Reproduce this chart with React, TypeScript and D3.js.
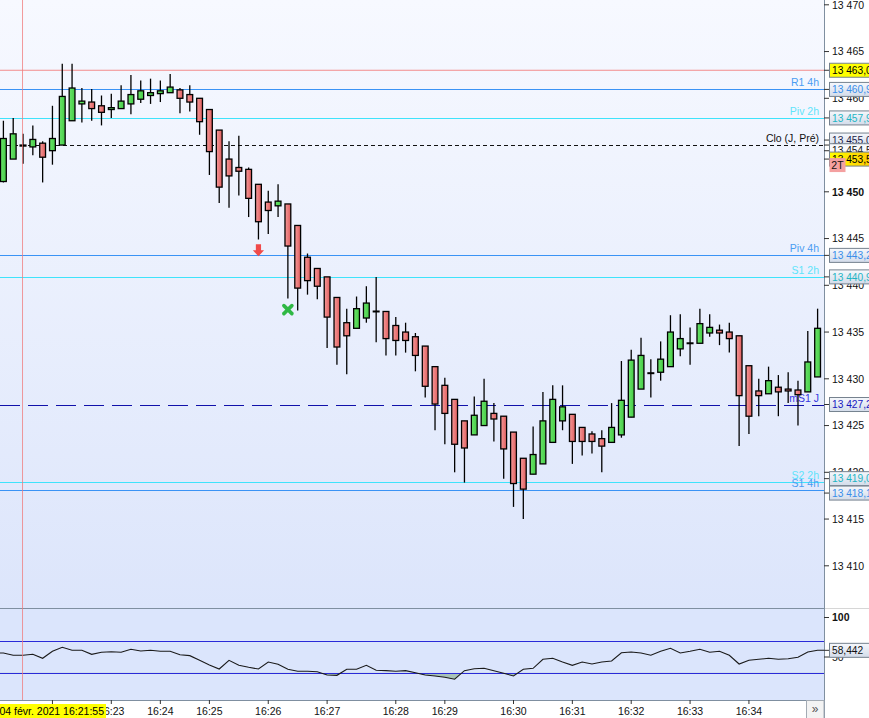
import * as d3 from "d3";

// OHLC per bar (tick bars, 84 of them)
const opens = [
  13451.1, 13453.5, 13455.0, 13454.8, 13455.2, 13454.4, 13455.0, 13457.6, 13459.4, 13459.6,
  13459.2, 13458.8, 13458.9, 13459.4, 13459.9, 13460.3, 13460.5, 13460.6, 13460.9, 13460.4,
  13460.0, 13458.8, 13456.6, 13453.5, 13452.6, 13452.4, 13450.8, 13448.9, 13448.5, 13448.7,
  13446.4, 13443.0, 13441.8, 13440.9, 13438.7, 13436.0, 13435.4, 13436.5, 13437.2, 13437.2,
  13435.7, 13435.0, 13434.5, 13433.5, 13431.3, 13429.3, 13427.8, 13425.5, 13424.0, 13425.0,
  13426.3, 13426.0, 13424.3, 13421.5, 13419.8, 13420.9, 13423.2, 13425.5, 13426.2, 13424.8,
  13424.1, 13423.6, 13423.2, 13424.0, 13425.9, 13428.9, 13430.6, 13430.7, 13431.3, 13433.2,
  13433.8, 13433.8, 13434.9, 13435.2, 13435.0, 13434.6, 13431.4, 13428.7, 13428.4, 13429.1,
  13428.9, 13428.8, 13428.6, 13430.2,
];
const highs = [
  13457.6, 13457.9, 13456.2, 13457.1, 13455.4, 13459.2, 13463.7, 13463.7, 13461.1, 13461.0,
  13460.3, 13460.5, 13461.4, 13462.5, 13461.9, 13462.1, 13461.9, 13462.6, 13461.1, 13461.4,
  13460.0, 13458.8, 13456.6, 13455.4, 13456.0, 13452.6, 13450.8, 13450.1, 13450.8, 13448.7,
  13446.4, 13443.4, 13441.8, 13440.9, 13438.7, 13437.5, 13438.8, 13439.9, 13440.9, 13437.2,
  13436.6, 13436.0, 13434.9, 13433.5, 13431.3, 13430.1, 13427.8, 13425.5, 13428.1, 13430.0,
  13427.4, 13426.0, 13424.3, 13421.5, 13424.9, 13428.6, 13429.3, 13429.3, 13426.2, 13424.8,
  13424.4, 13424.5, 13427.4, 13431.9, 13433.1, 13434.4, 13432.1, 13434.0, 13436.8, 13436.9,
  13435.5, 13437.5, 13436.9, 13435.8, 13436.0, 13434.6, 13431.4, 13430.0, 13431.3, 13430.4,
  13430.7, 13429.8, 13435.1, 13437.5,
];
const lows = [
  13451.0, 13453.5, 13453.0, 13453.9, 13451.0, 13452.9, 13455.0, 13457.6, 13457.4, 13457.6,
  13457.1, 13457.9, 13458.9, 13458.3, 13459.5, 13459.4, 13459.6, 13460.6, 13458.4, 13458.6,
  13456.1, 13451.8, 13448.8, 13448.3, 13449.6, 13447.3, 13444.9, 13445.5, 13447.3, 13438.6,
  13437.3, 13439.0, 13438.5, 13433.3, 13431.5, 13430.5, 13435.4, 13436.0, 13433.9, 13432.5,
  13432.5, 13432.8, 13430.8, 13428.0, 13424.5, 13423.0, 13420.0, 13418.9, 13424.0, 13425.0,
  13423.3, 13419.3, 13416.3, 13415.0, 13419.8, 13420.9, 13423.2, 13424.5, 13420.9, 13421.8,
  13422.0, 13420.0, 13423.2, 13423.7, 13425.9, 13428.9, 13428.0, 13429.8, 13431.3, 13432.4,
  13431.5, 13433.8, 13434.5, 13433.6, 13432.8, 13422.8, 13424.1, 13426.0, 13428.4, 13426.0,
  13427.4, 13425.0, 13428.6, 13430.2,
];
const closes = [
  13455.7, 13456.2, 13454.9, 13455.6, 13453.7, 13455.7, 13460.2, 13461.1, 13459.7, 13458.9,
  13458.5, 13459.0, 13459.7, 13460.4, 13460.8, 13460.6, 13460.8, 13461.2, 13460.0, 13459.6,
  13457.5, 13454.3, 13450.5, 13451.7, 13452.2, 13449.3, 13446.8, 13448.0, 13449.0, 13444.2,
  13439.7, 13440.5, 13439.9, 13436.6, 13433.4, 13434.6, 13437.5, 13438.1, 13437.2, 13434.3,
  13434.1, 13434.1, 13432.5, 13429.2, 13427.3, 13426.3, 13423.0, 13422.6, 13426.1, 13427.6,
  13425.7, 13422.5, 13418.8, 13418.2, 13421.9, 13425.5, 13427.8, 13427.0, 13423.3, 13423.3,
  13423.3, 13422.8, 13424.8, 13427.7, 13432.0, 13432.5, 13430.6, 13432.1, 13435.0, 13434.3,
  13433.8, 13435.9, 13435.5, 13434.9, 13434.3, 13428.2, 13426.0, 13428.2, 13429.8, 13428.6,
  13428.7, 13428.3, 13431.8, 13435.4,
];

// oscillator per bar
const rsi = [
  55.1, 52.2, 52.2, 53.4, 48.4, 57.2, 62.3, 58.5, 58.5, 53.4,
  56.0, 56.7, 56.0, 59.8, 57.6, 58.5, 57.2, 57.2, 52.9, 51.7,
  45.8, 39.9, 34.8, 45.8, 39.5, 37.0, 34.8, 43.7, 40.8, 34.4,
  31.9, 31.9, 31.4, 27.2, 26.8, 34.4, 34.4, 39.5, 33.2, 32.7,
  31.9, 32.7, 30.1, 27.2, 26.0, 24.3, 21.8, 32.7, 35.2, 35.7,
  32.7, 29.4, 26.0, 34.4, 35.7, 47.1, 48.4, 43.7, 39.5, 43.7,
  41.1, 43.7, 44.9, 55.4, 56.3, 55.1, 52.2, 57.2, 61.0, 55.1,
  57.2, 59.8, 56.0, 57.2, 52.2, 41.1, 45.8, 47.1, 48.4, 47.1,
  47.8, 49.6, 56.3, 58.6,
];
const rsiLast = 58.442;
const rsiBands = [70, 30];
const rsiTicks = [100, 50];

const timeLabels = ["16:22", "16:23", "16:24", "16:25", "16:26", "16:27", "16:28", "16:29", "16:30", "16:31", "16:32", "16:33", "16:34"];
const timeBars = [5, 11, 16, 21, 27, 33, 40, 45, 52, 58, 64, 70, 76];

const priceTicks = [13410, 13415, 13420, 13425, 13430, 13435, 13440, 13445, 13450, 13455, 13460, 13465, 13470];

const levelNames = ["R1 4h", "Piv 2h", "Clo (J, Pré)", "Piv 4h", "S1 2h", "mS1 J", "S2 2h", "S1 4h"];
const levelValues = [13460.95, 13457.9, 13455.0, 13443.2, 13440.9, 13427.25, 13419.0, 13418.1];
const dayHigh = 13463.0;
const quoteValues = [13454.5, 13453.5];

const sellSignal = { bar: 26, price: 13443.1 };
const exitSignal = { bar: 29, price: 13437.4 };
const cursorBar = 2;
const cursorLabel = "04 févr. 2021 16:21:55";

const BLUE = "#3a93f5";
const CYAN = "#3fe3fb";
const levelStyle: Record<string, { line: string; text: string; box: string; dash?: string; boxDy?: number }> = {
  "R1 4h": { line: BLUE, text: "#4a9cf2", box: "#3a8eea" },
  "Piv 2h": { line: CYAN, text: "#5fe4fb", box: "#1fb5c4" },
  "Clo (J, Pré)": { line: "#111", text: "#111", box: "#1d1d48", dash: "4,3", boxDy: -5 },
  "Piv 4h": { line: BLUE, text: "#4a9cf2", box: "#3a8eea" },
  "S1 2h": { line: CYAN, text: "#5fe4fb", box: "#1fb5c4" },
  "mS1 J": { line: "#1111aa", text: "#3535e0", box: "#1818c0", dash: "20,8" },
  "S2 2h": { line: CYAN, text: "#5fe4fb", box: "#1fb5c4", boxDy: -3 },
  "S1 4h": { line: BLUE, text: "#4a9cf2", box: "#3a8eea", boxDy: 3 },
};

const W = 869;
const H = 718;
const PR = 824; // plot right edge / price axis
const MB = 608; // bottom of price panel
const RB = 700; // bottom of oscillator panel
const FONT = "'Liberation Sans', Arial, sans-serif";

const loc = d3.formatLocale({ decimal: ",", thousands: "\u00a0", grouping: [3], currency: ["", ""] });
const fmtTick = loc.format(",d");
const fmtBox = loc.format(",.2f");
const fmtRsi = loc.format(".3f");

function PriceBox({ y, text, color, fill }: { y: number; text: string; color: string; fill: string }) {
  return (
    <g>
      <line x1={PR} x2={829} y1={y} y2={y} stroke="#333" strokeWidth={1} />
      <rect x={829.5} y={y - 7} width={50} height={14} fill={fill} stroke="#75828f" strokeWidth={1} />
      <text x={832} y={y} dy="0.36em" fontSize={10.2} fill={color} fontFamily={FONT}>{text}</text>
    </g>
  );
}

export default function App() {
  const x = d3.scaleLinear().domain([0, opens.length - 1]).range([3.4, 817.6]);
  const y = d3.scaleLinear().domain([13410, 13470]).range([565.8, 4.8]);
  const yr = d3.scaleLinear().domain([0, 100]).range([696.5, 617.5]);

  const pts: [number, number][] = [
    [0, yr(rsi[0])],
    ...rsi.map((v, i) => [x(i), yr(v)] as [number, number]),
    [PR, yr(rsi[rsi.length - 1])],
  ];
  const rsiLine = d3.line<[number, number]>().x(d => d[0]).y(d => d[1])(pts) || "";
  const rsiArea = d3.area<[number, number]>().x(d => d[0]).y0(yr(30)).y1(d => d[1])(pts) || "";

  const bw = 5.8;

  return (
    <div style={{ position: "absolute", left: 0, top: 0 }}>
      <svg width={W} height={H} style={{ display: "block", fontFamily: FONT }}>
        <defs>
          <linearGradient id="bgMain" x1="0" y1="0" x2="0" y2="1">
            <stop offset="0" stopColor="#f7f9ff" />
            <stop offset="1" stopColor="#dce5fb" />
          </linearGradient>
          <linearGradient id="up" x1="0" y1="0" x2="1" y2="0">
            <stop offset="0" stopColor="#6ae46a" />
            <stop offset="1" stopColor="#46cc46" />
          </linearGradient>
          <linearGradient id="down" x1="0" y1="0" x2="1" y2="0">
            <stop offset="0" stopColor="#f59a9a" />
            <stop offset="1" stopColor="#e05e5e" />
          </linearGradient>
          <linearGradient id="boxFill" x1="0" y1="0" x2="0" y2="1">
            <stop offset="0" stopColor="#f6f8fc" />
            <stop offset="1" stopColor="#d3dcea" />
          </linearGradient>
          <linearGradient id="lastFill" x1="0" y1="0" x2="1" y2="0">
            <stop offset="0" stopColor="#ffff00" />
            <stop offset="1" stopColor="#ffbf00" />
          </linearGradient>
          <clipPath id="below30">
            <rect x={0} y={yr(30)} width={PR} height={RB - yr(30)} />
          </clipPath>
          <clipPath id="plot">
            <rect x={0} y={0} width={PR} height={MB} />
          </clipPath>
        </defs>

        {/* backgrounds */}
        <rect x={0} y={0} width={W} height={H} fill="#fff" />
        <rect x={0} y={0} width={PR} height={MB} fill="url(#bgMain)" />
        <rect x={0} y={MB} width={PR} height={RB - MB} fill="#dbe5fc" />

        {/* price levels */}
        <g clipPath="url(#plot)">
          <line x1={0} x2={PR} y1={y(dayHigh)} y2={y(dayHigh)} stroke="#f28c8c" strokeWidth={1} />
          {levelNames.map((n, i) => {
            const s = levelStyle[n];
            const ly = Math.round(y(levelValues[i])) + 0.5;
            return (
              <g key={n}>
                <line x1={0} x2={PR} y1={ly} y2={ly} stroke={s.line} strokeWidth={1} strokeDasharray={s.dash} />
                <text x={819} y={ly - 4} textAnchor="end" fontSize={10.5} fill={s.text}>{n}</text>
              </g>
            );
          })}

          {/* candles */}
          {opens.map((o, i) => {
            const c = closes[i];
            const cx = x(i);
            const top = y(Math.max(o, c));
            const bot = y(Math.min(o, c));
            const doji = Math.abs(o - c) < 0.05;
            return (
              <g key={i}>
                <line x1={cx} x2={cx} y1={y(highs[i])} y2={y(lows[i])} stroke="#000" strokeWidth={1.3} />
                {doji ? (
                  <line x1={cx - 3.5} x2={cx + 3.5} y1={top} y2={top} stroke="#000" strokeWidth={2} />
                ) : (
                  <rect x={cx - bw / 2} y={top} width={bw} height={Math.max(1, bot - top)}
                    fill={c > o ? "url(#up)" : "url(#down)"} stroke="#000" strokeWidth={1.3} />
                )}
              </g>
            );
          })}

          {/* signals */}
          {(() => {
            const ax = x(sellSignal.bar);
            const ay = y(sellSignal.price);
            const d = `M${ax - 2.6},${ay - 12} H${ax + 2.6} V${ay - 6} H${ax + 5.6} L${ax},${ay} L${ax - 5.6},${ay - 6} H${ax - 2.6} Z`;
            return <path d={d} fill="#f04a4a" />;
          })()}
          {(() => {
            const ex = x(exitSignal.bar);
            const ey = y(exitSignal.price);
            return (
              <g stroke="#2fb844" strokeWidth={3.6} strokeLinecap="round">
                <line x1={ex - 4} x2={ex + 4} y1={ey - 4} y2={ey + 4} />
                <line x1={ex - 4} x2={ex + 4} y1={ey + 4} y2={ey - 4} />
              </g>
            );
          })()}
        </g>

        {/* oscillator panel */}
        <path d={rsiArea} fill="#a8c2b8" clipPath="url(#below30)" />
        {rsiBands.map(b => (
          <line key={b} x1={0} x2={PR} y1={Math.round(yr(b)) + 0.5} y2={Math.round(yr(b)) + 0.5} stroke="#2a2ad8" strokeWidth={1} />
        ))}
        <path d={rsiLine} fill="none" stroke="#1a1a1a" strokeWidth={1.1} />

        {/* panel borders */}
        <line x1={0} x2={PR} y1={MB + 0.5} y2={MB + 0.5} stroke="#7f8fa0" strokeWidth={1} />
        <line x1={PR} x2={W} y1={MB + 0.5} y2={MB + 0.5} stroke="#d6d6d6" strokeWidth={1} />
        <line x1={0} x2={PR} y1={RB + 0.5} y2={RB + 0.5} stroke="#7f8fa0" strokeWidth={1} />
        <line x1={PR + 0.5} x2={PR + 0.5} y1={0} y2={H} stroke="#7f8fa0" strokeWidth={1} />

        {/* cursor */}
        <line x1={x(cursorBar) - 0.5} x2={x(cursorBar) - 0.5} y1={0} y2={RB} stroke="#f07a7a" strokeOpacity={0.75} strokeWidth={1} />

        {/* price axis */}
        {priceTicks.map(t => (
          <g key={t}>
            <line x1={PR} x2={829} y1={y(t)} y2={y(t)} stroke="#333" />
            <text x={832} y={y(t)} dy="0.36em" fontSize={10.5} fontWeight={t % 50 === 0 ? "bold" : "normal"} fill="#111">{fmtTick(t)}</text>
          </g>
        ))}
        {rsiTicks.map(t => (
          <g key={t}>
            <line x1={PR} x2={829} y1={yr(t)} y2={yr(t)} stroke="#333" />
            <text x={832} y={yr(t)} dy="0.36em" fontSize={10.5} fontWeight={t === 100 ? "bold" : "normal"} fill="#111">{t}</text>
          </g>
        ))}

        {/* value boxes */}
        <PriceBox y={y(dayHigh)} text={fmtBox(dayHigh)} color="#000" fill="#ffff00" />
        {levelNames.slice(0, 3).map((n, i) => {
          const s = levelStyle[n];
          return <PriceBox key={n} y={y(levelValues[i]) + (s.boxDy || 0)} text={fmtBox(levelValues[i])} color={s.box} fill="url(#boxFill)" />;
        })}
        <PriceBox y={y(quoteValues[0]) + 1} text={fmtBox(quoteValues[0])} color="#111" fill="#f8f9fc" />
        <PriceBox y={y(quoteValues[1])} text={fmtBox(quoteValues[1])} color="#000" fill="url(#lastFill)" />
        <rect x={829.5} y={y(quoteValues[1]) - 1} width={16} height={14} fill="#f4a0a0" />
        <text x={837.5} y={y(quoteValues[1]) + 6} dy="0.36em" textAnchor="middle" fontSize={10.5} fill="#111">2T</text>
        {levelNames.slice(3).map((n, j) => {
          const i = j + 3;
          const s = levelStyle[n];
          return <PriceBox key={n} y={y(levelValues[i]) + (s.boxDy || 0)} text={fmtBox(levelValues[i])} color={s.box} fill="url(#boxFill)" />;
        })}
        <PriceBox y={yr(rsiLast)} text={fmtRsi(rsiLast)} color="#111" fill="url(#boxFill)" />

        {/* time axis */}
        {timeBars.map((b, i) => (
          <g key={b}>
            <line x1={x(b)} x2={x(b)} y1={RB} y2={RB + 4} stroke="#333" />
            <text x={x(b)} y={715} textAnchor="middle" fontSize={10.5} fill="#111">{timeLabels[i]}</text>
          </g>
        ))}
        <rect x={0} y={704} width={106} height={14} fill="#ffff00" />
        <text x={104} y={715} textAnchor="end" fontSize={10.5} fill="#000">{cursorLabel}</text>
        <rect x={806.5} y={RB + 0.5} width={17.5} height={H - RB} fill="#f3f3f3" stroke="#a3abb4" />
        <text x={815} y={713} textAnchor="middle" fontSize={12} fill="#555">»</text>
      </svg>
    </div>
  );
}
